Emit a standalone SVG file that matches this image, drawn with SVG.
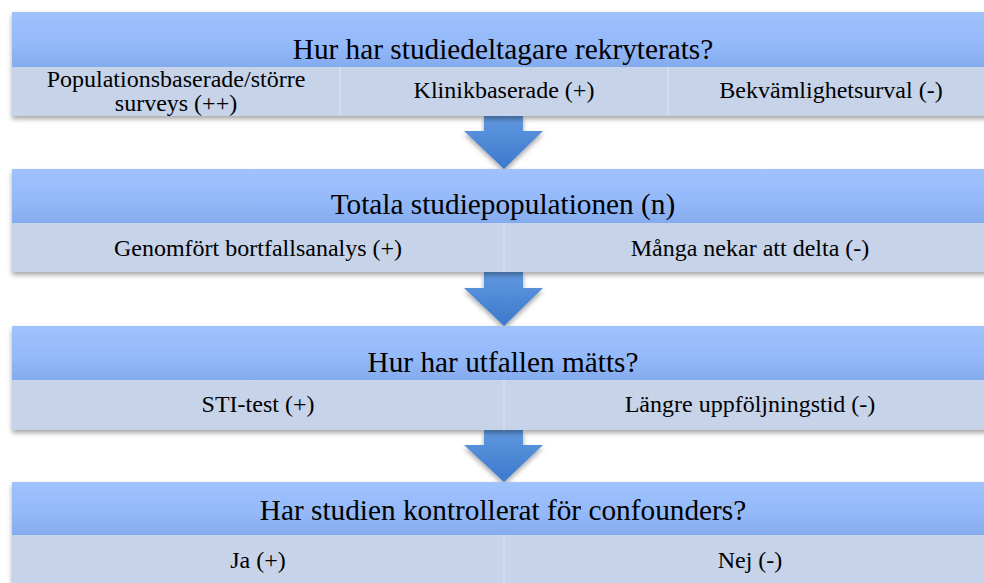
<svg xmlns="http://www.w3.org/2000/svg" width="984" height="583" viewBox="0 0 984 583">
<defs>
<linearGradient id="hdr" x1="0" y1="0" x2="0" y2="1">
<stop offset="0" stop-color="#a0c2fd"/>
<stop offset="0.6" stop-color="#94b9f9"/>
<stop offset="1" stop-color="#84abee"/>
</linearGradient>
<linearGradient id="arr" x1="0" y1="0" x2="0" y2="1">
<stop offset="0" stop-color="#6198df"/>
<stop offset="1" stop-color="#3c79cc"/>
</linearGradient>
<filter id="sh" x="-5%" y="-10%" width="110%" height="130%">
<feDropShadow dx="0" dy="3" stdDeviation="2.5" flood-color="#000" flood-opacity="0.35"/>
</filter>
</defs>
<style>
.hdr{fill:url(#hdr)}
.sub{fill:#c6d3e9}
.div{stroke:#d6dfee;stroke-width:1.5}
.h{font-size:29.3px;fill:#000;text-anchor:middle}
.s{font-size:24px;fill:#000;text-anchor:middle}
.arrow{fill:url(#arr)}
</style>
<rect width="984" height="583" fill="#fff"/>

<g id="connectors">
<path class="arrow" filter="url(#sh)" d="M484 116 H523 V131 H543 L504 169 L464 131 H484 Z"/>
<path class="arrow" filter="url(#sh)" d="M484 272 H523 V288 H543 L504 326 L464 288 H484 Z"/>
<path class="arrow" filter="url(#sh)" d="M484 430 H523 V445 H543 L504 482 L464 445 H484 Z"/>
</g>

<g id="node1">
<g filter="url(#sh)">
<rect class="hdr" x="12" y="12" width="984" height="55"/>
<rect class="sub" x="12" y="67" width="984" height="49"/>
</g>
<line class="div" x1="340" y1="67" x2="340" y2="116"/>
<line class="div" x1="668" y1="67" x2="668" y2="116"/>
<text class="h" font-family="'Liberation Serif',serif" x="503" y="59">Hur har studiedeltagare rekryterats?</text>
<text class="s" font-family="'Liberation Serif',serif" x="176" y="87">Populationsbaserade/större</text>
<text class="s" font-family="'Liberation Serif',serif" x="176" y="111">surveys (++)</text>
<text class="s" font-family="'Liberation Serif',serif" x="504" y="98">Klinikbaserade (+)</text>
<text class="s" font-family="'Liberation Serif',serif" x="831" y="98">Bekvämlighetsurval (-)</text>
</g>

<g id="node2">
<g filter="url(#sh)">
<rect class="hdr" x="12" y="169" width="984" height="54"/>
<rect class="sub" x="12" y="223" width="984" height="49"/>
</g>
<line class="div" x1="504" y1="223" x2="504" y2="272"/>
<text class="h" font-family="'Liberation Serif',serif" x="503" y="214">Totala studiepopulationen (n)</text>
<text class="s" font-family="'Liberation Serif',serif" x="258" y="256">Genomfört bortfallsanalys (+)</text>
<text class="s" font-family="'Liberation Serif',serif" x="750" y="256">Många nekar att delta (-)</text>
</g>

<g id="node3">
<g filter="url(#sh)">
<rect class="hdr" x="12" y="326" width="984" height="54"/>
<rect class="sub" x="12" y="380" width="984" height="50"/>
</g>
<line class="div" x1="504" y1="380" x2="504" y2="430"/>
<text class="h" font-family="'Liberation Serif',serif" x="503" y="372">Hur har utfallen mätts?</text>
<text class="s" font-family="'Liberation Serif',serif" x="258" y="412">STI-test (+)</text>
<text class="s" font-family="'Liberation Serif',serif" x="750" y="412">Längre uppföljningstid (-)</text>
</g>

<g id="node4">
<g filter="url(#sh)">
<rect class="hdr" x="12" y="482" width="984" height="53"/>
<rect class="sub" x="12" y="535" width="984" height="60"/>
</g>
<line class="div" x1="504" y1="535" x2="504" y2="583"/>
<text class="h" font-family="'Liberation Serif',serif" x="503" y="520">Har studien kontrollerat för confounders?</text>
<text class="s" font-family="'Liberation Serif',serif" x="258" y="568">Ja (+)</text>
<text class="s" font-family="'Liberation Serif',serif" x="750" y="568">Nej (-)</text>
</g>
</svg>
